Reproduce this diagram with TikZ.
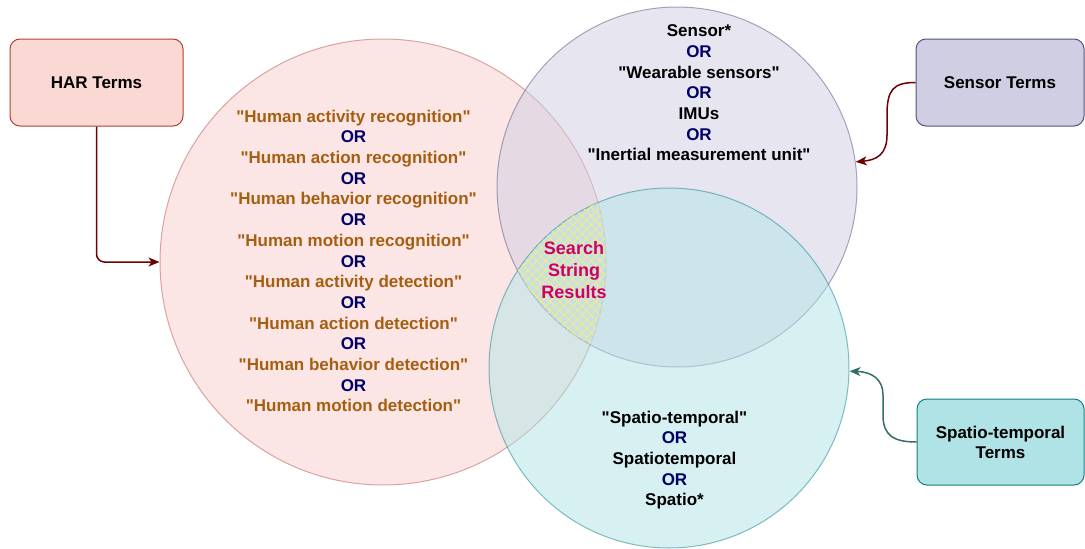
\documentclass[tikz,border=0pt]{standalone}
\usepackage{fontspec}
\setmainfont{Liberation Sans}
\newfontfamily\arialb{Liberation Sans}
\usetikzlibrary{arrows.meta}
\definecolor{harfill}{HTML}{F8CECC}
\definecolor{harline}{HTML}{B85450}
\definecolor{harbox}{HTML}{FAD9D5}
\definecolor{harboxline}{HTML}{AE4132}
\definecolor{senfill}{HTML}{D0CEE2}
\definecolor{senline}{HTML}{56517E}
\definecolor{spafill}{HTML}{B0E3E6}
\definecolor{spaline}{HTML}{0E8088}
\definecolor{termbrown}{HTML}{A65E10}
\definecolor{ornavy}{HTML}{000066}
\definecolor{searchmag}{HTML}{CC0066}
\definecolor{darkred}{HTML}{6F0000}
\definecolor{darkteal}{HTML}{356D68}
\definecolor{hatchyellow}{HTML}{F2F27A}
\newcommand{\orword}{{\color{ornavy}OR}}
\begin{document}
\begin{tikzpicture}[x=1pt,y=-1pt,
  txt/.style={align=center, inner sep=0pt, font=\arialb\fontsize{17}{20.7}\selectfont\bfseries},
  termbox/.style={rectangle, rounded corners=10pt, line width=1pt, align=center, inner sep=0pt,
     font=\arialb\fontsize{17}{20}\selectfont\bfseries},
  venn/.style={circle, inner sep=0pt, line width=1pt, opacity=0.5},
  conn/.style={line width=1.5pt, -{Stealth[length=11pt,width=9pt,inset=3pt]}},
  hatch/.style={hatchyellow, line width=0.9pt, opacity=0.85}
]
\useasboundingbox (0,0) rectangle (1085,549);

% circles
\node[venn, fill=harfill, draw=harline, minimum size=446pt] (harc) at (383,262) {};
\node[venn, fill=senfill, draw=senline, minimum size=360pt] (sensc) at (677,187) {};
\node[venn, fill=spafill, draw=spaline, minimum size=360pt] (spatc) at (669,368) {};

% hatch in the triple intersection
\begin{scope}
  \clip (383,262) circle (223pt);
  \clip (677,187) circle (180pt);
  \clip (669,368) circle (180pt);
  \foreach \c in {150,159,...,430} {
    \draw[hatch] (\c+195,195) -- (\c+350,350);
  }
  \foreach \c in {690,699,...,975} {
    \draw[hatch] (\c-195,195) -- (\c-350,350);
  }
\end{scope}

% boxes
\node[termbox, fill=harbox, draw=harboxline, minimum width=173pt, minimum height=87pt] (harbox) at (96.5,82.5) {HAR Terms};
\node[termbox, fill=senfill, draw=senline, minimum width=168pt, minimum height=87pt] (senbox) at (1000,82.5) {Sensor Terms};
\node[termbox, fill=spafill, draw=spaline, minimum width=167pt, minimum height=86pt] (spabox) at (1000.5,442) {Spatio-temporal\\Terms};

% texts
\node[txt, text=termbrown] (hartxt) at (353.5,261) {%
"Human activity recognition"\\ \orword\\
"Human action recognition"\\ \orword\\
"Human behavior recognition"\\ \orword\\
"Human motion recognition"\\ \orword\\
"Human activity detection"\\ \orword\\
"Human action detection"\\ \orword\\
"Human behavior detection"\\ \orword\\
"Human motion detection"};

\node[txt, text=black] (sentxt) at (699,93) {%
Sensor*\\ \orword\\ "Wearable sensors"\\ \orword\\ IMUs\\ \orword\\ "Inertial measurement unit"};

\node[txt, text=black] (spatxt) at (674.5,460) {%
"Spatio-temporal"\\ \orword\\ Spatiotemporal\\ \orword\\ Spatio*};

\node[align=center, inner sep=0pt, text=searchmag, font=\arialb\fontsize{18}{22}\selectfont\bfseries] (search) at (574,270) {Search\\String\\Results};

% connectors
\draw[conn, darkred, rounded corners=8pt] (harbox.south) |- (harc.west);
\draw[conn, darkred] (senbox.west) .. controls (893,82.5) and (887,90) .. (887,115)
   -- (887,135) .. controls (887,155) and (876,160) .. (sensc.8.6);
\draw[conn, darkteal] (spabox.west) .. controls (893,442) and (883,435) .. (883,415)
   -- (883,395) .. controls (883,380) and (873,372) .. (spatc.-1.3);
\end{tikzpicture}
\end{document}
